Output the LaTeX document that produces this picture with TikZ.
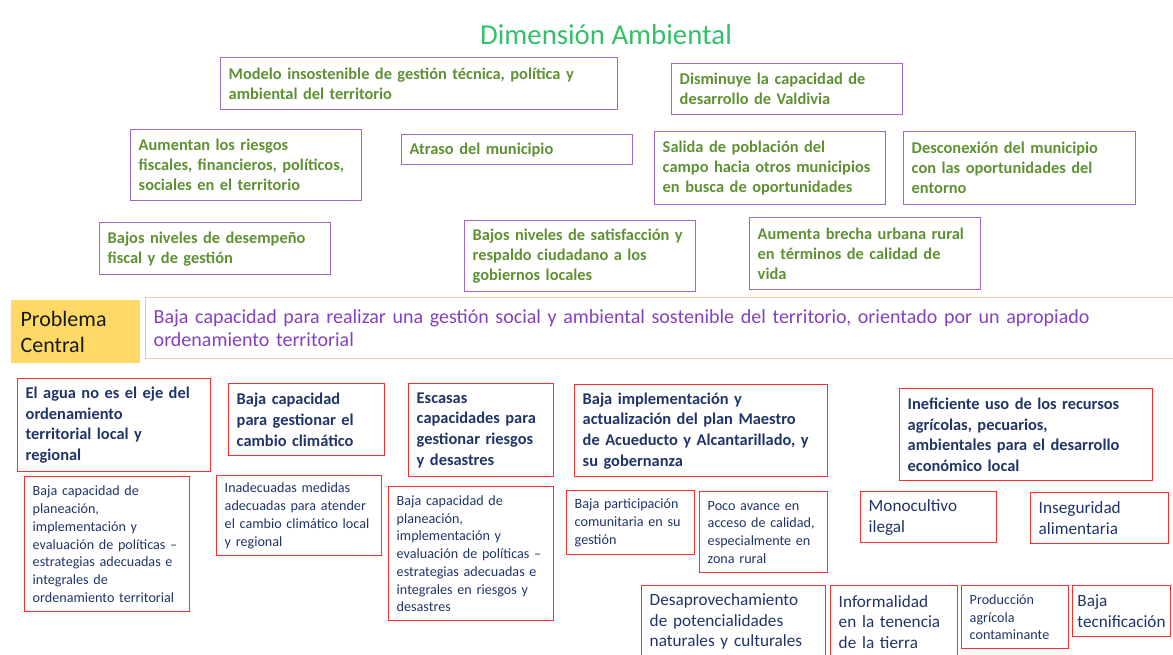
\documentclass[tikz,border=0pt]{standalone}
\usepackage{fontspec}
\setmainfont{Carlito}
\usepackage{tikz}
\usetikzlibrary{positioning}
\definecolor{Sprout}{HTML}{35BF6A}
\definecolor{Leaf}{HTML}{5E9133}
\definecolor{Lilac}{HTML}{A066CC}
\definecolor{Navy}{HTML}{1F3468}
\definecolor{Alarm}{HTML}{FF2E2E}
\definecolor{Sun}{HTML}{FFD966}
\definecolor{Peach}{HTML}{F6C3A0}
\definecolor{Plum}{HTML}{8440BF}
\tikzset{
  effect/.style={draw=Lilac,line width=1.1pt,text=Leaf,anchor=north west,align=left,inner xsep=6pt,inner ysep=3pt,font=\fontsize{12.3}{15}\selectfont\bfseries},
  cause/.style={effect,draw=Alarm,text=Navy,font=\fontsize{12.3}{15.5}\selectfont\bfseries},
  subcause/.style={cause,font=\fontsize{10.6}{13.3}\selectfont},
  leafcause/.style={cause,font=\fontsize{12.9}{15.4}\selectfont},
  tag/.style={fill=Sun,draw=none,anchor=north west,align=left,inner xsep=7pt,inner ysep=3pt,text=black!90,font=\fontsize{16.5}{20}\selectfont},
  problem/.style={draw=Peach,line width=1.1pt,anchor=north west,align=left,inner xsep=6pt,inner ysep=3pt,text=Plum,font=\fontsize{15}{17.25}\selectfont},
  heading/.style={text=Sprout,font=\fontsize{21.6}{25}\selectfont}
}
\begin{document}
\begin{tikzpicture}[x=0.75pt,y=-0.75pt]
  \useasboundingbox (0,0) rectangle (1173,654);
  \node[heading] (title) at (606,35) {Dimensión Ambiental};

  \node[effect,text width=285.75pt,minimum height=39pt] (modelo) at (220,57) {Modelo insostenible de gestión técnica, política y\\ambiental del territorio};
  \node[effect,text width=161.25pt,minimum height=38.25pt] (disminuye) at (671,63) {Disminuye la capacidad de\\desarrollo de Valdivia};
  \node[effect,text width=161.25pt,minimum height=53.25pt] (riesgos) at (130,129) {Aumentan los riesgos\\fiscales, financieros, políticos,\\sociales en el territorio};
  \node[effect,text width=161.25pt,minimum height=22.5pt] (atraso) at (401,134) {Atraso del municipio};
  \node[effect,text width=161.25pt,minimum height=54.75pt] (salida) at (654,131) {Salida de población del\\campo hacia otros municipios\\en busca de oportunidades};
  \node[effect,text width=162pt,minimum height=54.75pt] (desconexion) at (903,131) {Desconexión del municipio\\con las oportunidades del\\entorno};
  \node[effect,text width=161.25pt,minimum height=39pt] (desempeno) at (99,222) {Bajos niveles de desempeño\\fiscal y de gestión};
  \node[effect,text width=161.25pt,minimum height=53.25pt] (satisfaccion) at (464,220) {Bajos niveles de satisfacción y\\respaldo ciudadano a los\\gobiernos locales};
  \node[effect,text width=161.25pt,minimum height=54pt] (brecha) at (749,217) {Aumenta brecha urbana rural\\en términos de calidad de\\vida};

  \node[tag,text width=82.75pt,minimum height=47.25pt] (central) at (11,300) {Problema\\Central};
  \node[problem,text width=768pt,minimum height=45.75pt] (problema) at (145,297) {Baja capacidad para realizar una gestión social y ambiental sostenible del territorio, orientado por un apropiado\\ordenamiento territorial};

  \node[cause,text width=132.75pt,minimum height=69.75pt] (agua) at (17,378) {El agua no es el eje del\\ordenamiento\\territorial local y\\regional};
  \node[cause,text width=105pt,minimum height=54pt] (clima) at (228,383) {Baja capacidad\\para gestionar el\\cambio climático};
  \node[cause,text width=96.75pt,minimum height=69.75pt] (escasas) at (408,383) {Escasas\\capacidades para\\gestionar riesgos\\y desastres};
  \node[cause,text width=177.75pt,minimum height=69pt] (acueducto) at (574,384) {Baja implementación y\\actualización del plan Maestro\\de Acueducto y Alcantarillado, y\\su gobernanza};
  \node[cause,text width=177.75pt,minimum height=69pt] (ineficiente) at (899,388) {Ineficiente uso de los recursos\\agrícolas, pecuarios,\\ambientales para el desarrollo\\económico local};

  \node[subcause,text width=111.75pt,minimum height=101.25pt] (planOT) at (24,476) {Baja capacidad de\\planeación,\\implementación y\\evaluación de políticas –\\estrategias adecuadas e\\integrales de\\ordenamiento territorial};
  \node[subcause,text width=111.75pt,minimum height=60pt] (medidas) at (216,475) {Inadecuadas medidas\\adecuadas para atender\\el cambio climático local\\y regional};
  \node[subcause,text width=111.75pt,minimum height=100.5pt] (planRD) at (388,486) {Baja capacidad de\\planeación,\\implementación y\\evaluación de políticas –\\estrategias adecuadas e\\integrales en riesgos y\\desastres};
  \node[subcause,text width=84pt,minimum height=48pt] (participacion) at (566,490) {Baja participación\\comunitaria en su\\gestión};
  \node[subcause,text width=84pt,minimum height=60.75pt] (avance) at (699,491) {Poco avance en\\acceso de calidad,\\especialmente en\\zona rural};
  \node[leafcause,text width=90pt,minimum height=38.25pt] (monocultivo) at (860,491) {Monocultivo\\ilegal};
  \node[leafcause,text width=91.5pt,minimum height=38.25pt] (inseguridad) at (1030,492) {Inseguridad\\alimentaria};
  \node[leafcause,text width=126pt,minimum height=54pt] (desaprovechamiento) at (641,585) {Desaprovechamiento\\de potencialidades\\naturales y culturales};
  \node[leafcause,text width=83.25pt,minimum height=54pt] (informalidad) at (830,585) {Informalidad\\en la tenencia\\de la tierra};
  \node[subcause,text width=68.25pt,minimum height=47.25pt] (produccion) at (961,585) {Producción\\agrícola\\contaminante};
  \node[leafcause,inner xsep=3.5pt,text width=66.5pt,minimum height=38.25pt] (tecnificacion) at (1072,585) {Baja\\tecnificación};
\end{tikzpicture}
\end{document}
